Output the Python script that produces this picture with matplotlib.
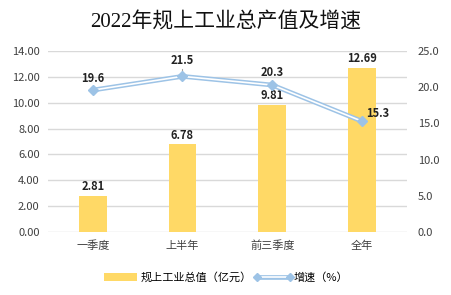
import matplotlib
matplotlib.use("Agg")
import matplotlib.pyplot as plt
from matplotlib.lines import Line2D
from matplotlib.patches import Patch
from matplotlib.legend_handler import HandlerBase

plt.rcParams['font.family'] = ['Noto Sans CJK SC', 'DejaVu Sans']

title = "2022年规上工业总产值及增速"
categories = ["一季度", "上半年", "前三季度", "全年"]
output_values = [2.81, 6.78, 9.81, 12.69]
growth_values = [19.6, 21.5, 20.3, 15.3]
bar_name = "规上工业总值（亿元）"
line_name = "增速（%）"

bar_color = "#FFD966"
line_color = "#9DC3E6"

fig = plt.figure(figsize=(4.52, 2.95), dpi=100)
ax = fig.add_axes([0.106, 0.214, 0.794, 0.613])
ax2 = ax.twinx()

x = list(range(len(categories)))
ax.bar(x, output_values, width=0.31, color=bar_color, zorder=2)
ax.set_ylim(0, 14)
ax.set_yticks([0, 2, 4, 6, 8, 10, 12, 14])
ax.set_yticklabels([f"{v:.2f}" for v in [0, 2, 4, 6, 8, 10, 12, 14]], fontsize=8, color="#404040")
ax.set_xlim(-0.5, len(categories) - 0.5)
ax.set_xticks(x)
ax.set_xticklabels(categories, fontsize=8, color="#404040")
ax.grid(axis='y', color="#d9d9d9", linewidth=1, zorder=0)
ax.set_axisbelow(True)
for s in ax.spines.values():
    s.set_visible(False)
for s in ax2.spines.values():
    s.set_visible(False)
ax.tick_params(length=0, pad=6)

ax2.set_ylim(0, 25)
ax2.set_yticks([0, 5, 10, 15, 20, 25])
ax2.set_yticklabels([f"{v:.1f}" for v in [0, 5, 10, 15, 20, 25]], fontsize=8, color="#404040")
ax2.tick_params(length=0, pad=8)

ax2.plot(x, growth_values, color=line_color, linewidth=3.4, zorder=3)
ax2.plot(x, growth_values, color="white", linewidth=1.2, zorder=4)
ax2.plot(x, growth_values, linestyle='none', marker='D', markersize=5,
         color=line_color, zorder=5)

for xi, v in zip(x, output_values):
    ax.annotate(f"{v:.2f}", (xi, v), xytext=(0, 2), textcoords='offset points',
                ha='center', va='bottom', fontsize=8, fontweight='bold', color="#222222")

offsets = [(0, 4), (0, 7), (0, 4), (11, 1)]
for xi, v, off in zip(x, growth_values, offsets):
    ax2.annotate(f"{v:.1f}", (xi, v), xytext=off, textcoords='offset points',
                 ha='center', va='bottom', fontsize=8, fontweight='bold', color="#222222")
# leader line for 21.5
ax2.annotate("", (x[1], growth_values[1]), xytext=(0, 7), textcoords='offset points',
             arrowprops=dict(arrowstyle='-', color="#a6a6a6", lw=0.8))

fig.text(0.5, 0.925, title, ha='center', va='center', fontsize=15, fontweight='medium',
         family=['Liberation Serif', 'Noto Sans CJK SC'], color="#111111")


class CompoundLineHandler(HandlerBase):
    def create_artists(self, legend, orig_handle, xdescent, ydescent, width, height,
                       fontsize, trans):
        y = height / 2 - ydescent
        x0 = -xdescent
        x1 = -xdescent + width
        l1 = Line2D([x0, x1], [y, y], color=line_color, linewidth=3.4)
        l2 = Line2D([x0, x1], [y, y], color="white", linewidth=1.2)
        m = Line2D([x0, x1], [y, y], linestyle='none', marker='D', markersize=4,
                   color=line_color)
        for a in (l1, l2, m):
            a.set_transform(trans)
        return [l1, l2, m]


line_handle = Line2D([], [], color=line_color)
handles = [Patch(facecolor=bar_color, edgecolor='none'), line_handle]
fig.legend(handles, [bar_name, line_name], loc='center', bbox_to_anchor=(0.5, 0.06),
           ncol=2, frameon=False, fontsize=8, handlelength=3.0, columnspacing=0.5,
           handletextpad=0.3,
           handler_map={line_handle: CompoundLineHandler()})

fig.savefig("out.png", dpi=100)
